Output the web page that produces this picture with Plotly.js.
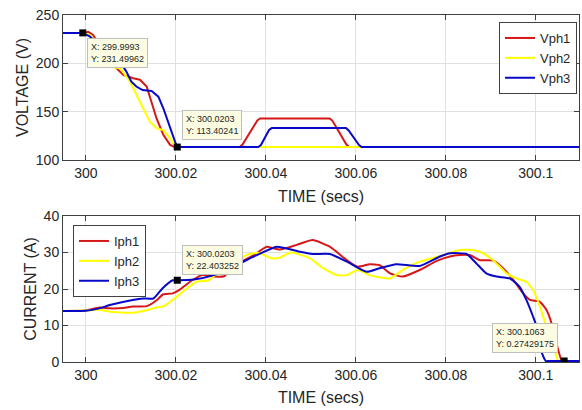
<!DOCTYPE html>
<html>
<head>
<meta charset="utf-8">
<script src="https://cdn.plot.ly/plotly-3.0.1.min.js"></script>
<style>html,body{margin:0;padding:0;background:#fff;}#chart{width:582px;height:410px;}</style>
</head>
<body>
<div id="chart"></div>
<script>
// ---- Voltage data (top panel) ----
var vph1T = [299.9949, 299.9993, 300.0005, 300.0016, 300.003, 300.0045, 300.0061, 300.0083, 300.0105, 300.012, 300.0135, 300.0146, 300.0157, 300.0172, 300.0187, 300.0196, 300.0202, 300.0342, 300.0348, 300.0381, 300.0387, 300.0542, 300.0548, 300.0579, 300.0585, 300.1096];
var vph1V = [231.5, 231.5, 232.7, 229.3, 218, 207, 198.3, 188, 184.5, 183, 176, 160, 143, 126, 115.6, 113.8, 113.4, 113.4, 116, 141, 143, 143, 140.5, 116, 113.4, 113.4];

var vph2T = [299.9949, 299.9993, 300.001, 300.003, 300.0053, 300.0076, 300.0098, 300.0112, 300.0127, 300.0142, 300.0157, 300.0172, 300.0187, 300.0198, 300.0205, 300.1096];
var vph2V = [231.5, 231.5, 229, 215, 196.5, 194.9, 181, 167, 153.5, 139.7, 132.8, 131, 122.5, 114.4, 113.4, 113.4];

var vph3T = [299.9949, 299.9993, 300.0009, 300.003, 300.0055, 300.0076, 300.009, 300.0101, 300.0112, 300.0126, 300.0146, 300.0161, 300.0172, 300.0187, 300.0198, 300.0203, 300.0383, 300.0389, 300.0407, 300.0413, 300.0578, 300.0584, 300.0607, 300.0613, 300.1096];
var vph3V = [231.5, 231.5, 227.6, 218, 209, 201.7, 191.4, 181, 176, 172.4, 171.4, 165.5, 153.5, 132.8, 119, 113.4, 113.4, 115.5, 131, 133, 133, 130.5, 115.5, 113.4, 113.4];

// ---- Current data (bottom panel) ----
var iph1T = [299.9949, 300.0, 300.003, 300.0053, 300.0083, 300.0104, 300.0135, 300.0158, 300.0171, 300.0193, 300.0207, 300.0236, 300.0258, 300.0284, 300.0307, 300.0327, 300.0373, 300.0402, 300.0431, 300.0469, 300.0504, 300.0542, 300.058, 300.0604, 300.0631, 300.0653, 300.0676, 300.0704, 300.0742, 300.078, 300.0809, 300.0831, 300.0853, 300.0876, 300.0905, 300.0927, 300.095, 300.0972, 300.0987, 300.1009, 300.1024, 300.1035, 300.1046, 300.1058, 300.1064, 300.1075, 300.1096];
var iph1I = [14.0, 14.1, 14.9, 14.7, 14.8, 15.2, 15.3, 17.0, 18.5, 18.8, 19.7, 22.4, 23.8, 23.4, 23.5, 26.1, 29.3, 31.6, 30.8, 32.1, 33.4, 31.6, 27.9, 26.1, 26.8, 26.5, 24.3, 23.4, 25.2, 27.7, 28.9, 29.3, 29.3, 27.9, 27.8, 25.7, 22.5, 18.8, 17.0, 16.5, 14.2, 10.6, 5.0, 0.27, 0.27, 0.27, 0.27];

var iph2T = [299.9949, 300.0, 300.003, 300.0053, 300.0104, 300.0135, 300.0158, 300.0171, 300.0193, 300.0215, 300.0244, 300.0273, 300.0287, 300.0318, 300.0356, 300.0384, 300.0413, 300.0431, 300.0455, 300.0498, 300.0527, 300.0558, 300.058, 300.0604, 300.0631, 300.0653, 300.0676, 300.0704, 300.0742, 300.0787, 300.0831, 300.0861, 300.0883, 300.0905, 300.0935, 300.0957, 300.0979, 300.0994, 300.1009, 300.102, 300.1035, 300.105, 300.1056, 300.1068, 300.1096];
var iph2I = [14.0, 14.1, 14.3, 13.8, 13.5, 14.2, 15.0, 15.2, 17.0, 19.2, 21.9, 22.4, 23.8, 25.2, 29.3, 29.9, 28.4, 28.6, 30.0, 28.4, 25.7, 23.8, 23.8, 25.2, 23.8, 23.2, 22.9, 25.2, 27.5, 29.0, 30.7, 30.7, 29.8, 27.9, 24.3, 22.9, 22.0, 19.7, 15.2, 11.0, 6.0, 0.27, 0.27, 0.27, 0.27];

var iph3T = [299.9949, 300.0, 300.003, 300.0053, 300.0104, 300.0127, 300.015, 300.0171, 300.0193, 300.0203, 300.024, 300.0284, 300.0327, 300.038, 300.0424, 300.046, 300.0476, 300.0504, 300.0542, 300.058, 300.0624, 300.0653, 300.069, 300.0742, 300.0787, 300.0809, 300.0846, 300.0868, 300.089, 300.0913, 300.0942, 300.0964, 300.0979, 300.0994, 300.1002, 300.1012, 300.1022, 300.1028, 300.104, 300.1096];
var iph3I = [14.0, 14.05, 14.7, 15.6, 17.0, 17.4, 17.4, 20.3, 22.4, 22.4, 22.6, 23.8, 26.1, 29.3, 31.6, 30.7, 30.2, 29.6, 29.6, 27.5, 24.7, 25.7, 26.8, 26.3, 28.9, 29.8, 29.6, 27.0, 24.3, 23.4, 22.9, 20.6, 17.0, 12.4, 9.7, 3.0, 0.27, 0.27, 0.27, 0.27];

// ---- Data tips ----
var tipVT = [299.9993, 300.0203];
var tipVV = [231.49962, 113.40241];
var tipVLabels = ['X: 299.9993<br>Y: 231.49962', 'X: 300.0203<br>Y: 113.40241'];
var tipIT = [300.0203, 300.1063];
var tipII = [22.403252, 0.27429175];
var tipILabels = ['X: 300.0203<br>Y: 22.403252', 'X: 300.1063<br>Y: 0.27429175'];

var vNames = ['Vph1', 'Vph2', 'Vph3'];
var iNames = ['Iph1', 'Iph2', 'Iph3'];
var colors = ['rgb(214,24,24)', 'rgb(255,255,0)', 'rgb(8,8,200)'];

var FONT = 'Liberation Sans, Arial, Helvetica, sans-serif';
var TXT = '#262626';

var vT = [vph1T, vph2T, vph3T], vV = [vph1V, vph2V, vph3V];
var iT = [iph1T, iph2T, iph3T], iI = [iph1I, iph2I, iph3I];
var traces = [];
for (var k = 0; k < 3; k++) {
  traces.push({x: vT[k], y: vV[k], name: vNames[k], type: 'scatter', mode: 'lines',
    line: {color: colors[k], width: 2}, xaxis: 'x', yaxis: 'y', legend: 'legend'});
}
for (var k = 0; k < 3; k++) {
  traces.push({x: iT[k], y: iI[k], name: iNames[k], type: 'scatter', mode: 'lines',
    line: {color: colors[k], width: 2, shape: 'spline', smoothing: 0.5}, xaxis: 'x2', yaxis: 'y2', legend: 'legend2'});
}
traces.push({x: tipVT, y: tipVV, type: 'scatter', mode: 'markers', showlegend: false,
  marker: {symbol: 'square', size: 7, color: '#000'}, xaxis: 'x', yaxis: 'y'});
traces.push({x: tipIT, y: tipII, type: 'scatter', mode: 'markers', showlegend: false,
  marker: {symbol: 'square', size: 7, color: '#000'}, xaxis: 'x2', yaxis: 'y2'});

function tip(x, y, text, xr, yr, xa, ya, xs, ys) {
  return {x: x, y: y, xref: xr, yref: yr, text: text, showarrow: false, align: 'left',
    xanchor: xa, yanchor: ya, xshift: xs, yshift: ys,
    font: {family: FONT, size: 9, color: TXT}, bgcolor: 'rgb(252,252,226)',
    bordercolor: 'rgb(190,190,190)', borderwidth: 1, borderpad: 3};
}
var annotations = [
  tip(tipVT[0], tipVV[0], tipVLabels[0], 'x', 'y', 'left', 'top', 4, -5),
  tip(tipVT[1], tipVV[1], tipVLabels[1], 'x', 'y', 'left', 'bottom', 5, 7),
  tip(tipIT[0], tipII[0], tipILabels[0], 'x2', 'y2', 'left', 'bottom', 5, 5),
  tip(tipIT[1], tipII[1], tipILabels[1], 'x2', 'y2', 'right', 'bottom', -6, 8)
];

var xRange = [299.9949, 300.1096];
function xax(anchor) {
  return {range: xRange, anchor: anchor, domain: [0, 1], tickvals: [300, 300.02, 300.04, 300.06, 300.08, 300.1],
    ticktext: ['300', '300.02', '300.04', '300.06', '300.08', '300.1'],
    ticks: 'inside', ticklen: 5, tickcolor: '#404040', mirror: 'ticks', showline: true,
    linecolor: '#404040', linewidth: 1, showgrid: true, gridcolor: '#e0e0e0', zeroline: false,
    tickfont: {family: FONT, size: 14, color: TXT},
    title: {text: 'TIME (secs)', font: {family: FONT, size: 16, color: TXT}, standoff: 10}};
}
function yax(range, dtick, domain, title, anchor) {
  return {range: range, dtick: dtick, domain: domain, anchor: anchor,
    ticks: 'inside', ticklen: 5, tickcolor: '#404040', mirror: 'ticks', showline: true,
    linecolor: '#404040', linewidth: 1, showgrid: true, gridcolor: '#e0e0e0', zeroline: false,
    tickfont: {family: FONT, size: 14, color: TXT},
    title: {text: title, font: {family: FONT, size: 16, color: TXT}, standoff: 3}};
}

var layout = {
  width: 582, height: 410,
  margin: {l: 63, r: 3, t: 15, b: 48},
  paper_bgcolor: '#fff', plot_bgcolor: '#fff',
  font: {family: FONT, color: TXT},
  xaxis: xax('y'),
  yaxis: yax([100, 250], 50, [0.5821, 1], 'VOLTAGE (V)', 'x'),
  xaxis2: xax('y2'),
  yaxis2: yax([0, 40], 10, [0, 0.4207], 'CURRENT (A)', 'x2'),
  legend: {x: 0.9961, y: 0.9798, xanchor: 'right', yanchor: 'top', bgcolor: '#fff',
    bordercolor: '#404040', borderwidth: 1, font: {family: FONT, size: 13, color: TXT},
    itemwidth: 30, tracegroupgap: 0},
  legend2: {x: 0.0194, y: 0.3948, xanchor: 'left', yanchor: 'top', bgcolor: '#fff',
    bordercolor: '#404040', borderwidth: 1, font: {family: FONT, size: 13, color: TXT},
    itemwidth: 30, tracegroupgap: 0},
  annotations: annotations,
  showlegend: true
};

Plotly.newPlot('chart', traces, layout, {displayModeBar: false, staticPlot: true});
</script>
</body>
</html>
